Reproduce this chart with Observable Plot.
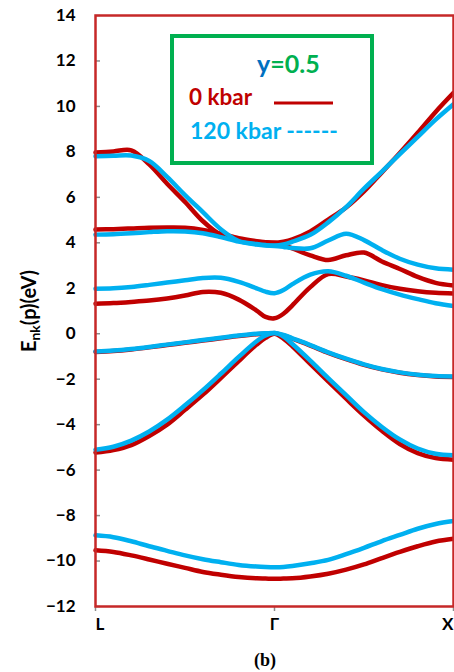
<!DOCTYPE html>
<html><head><meta charset="utf-8">
<script src="https://cdn.jsdelivr.net/npm/d3@7"></script>
<script src="https://cdn.jsdelivr.net/npm/@observablehq/plot@0.6"></script>
<style>
body{margin:0;background:#fff;}
#wrap{position:relative;width:454px;height:672px;}
svg{overflow:visible;}
</style></head><body><div id="wrap"></div>
<script>
// k-path: L = 0, Γ = 1, X = 2
const kPoints = [0,0.1,0.2,0.3,0.4,0.5,0.6,0.7,0.8,0.9,0.95,1.0,1.05,1.1,1.2,1.3,1.4,1.5,1.6,1.7,1.8,1.9,2.0];
const xTickPos = [0, 1, 2];
const xTickLabels = ["L", "Γ", "X"];
const yTicks = [-12,-10,-8,-6,-4,-2,0,2,4,6,8,10,12,14];

// 0 kbar (red)
const red1 = [-9.53,-9.6,-9.75,-9.93,-10.12,-10.3,-10.48,-10.6,-10.7,-10.76,-10.77,-10.78,-10.77,-10.76,-10.68,-10.56,-10.38,-10.15,-9.87,-9.6,-9.35,-9.14,-9.02];
const red2 = [-5.23,-5.12,-4.9,-4.5,-4.0,-3.35,-2.68,-1.95,-1.2,-0.48,-0.18,0.0,-0.22,-0.55,-1.33,-2.1,-2.86,-3.6,-4.27,-4.85,-5.25,-5.47,-5.54];
const red3 = [-0.8,-0.76,-0.69,-0.6,-0.5,-0.4,-0.3,-0.2,-0.1,-0.02,0.0,0.01,-0.07,-0.22,-0.52,-0.84,-1.12,-1.37,-1.57,-1.72,-1.82,-1.88,-1.9];
const red4 = [1.32,1.35,1.4,1.46,1.55,1.68,1.84,1.8,1.5,1.02,0.74,0.68,0.88,1.25,2.05,2.62,2.52,2.35,2.14,1.98,1.87,1.8,1.77];
const red5 = [4.58,4.6,4.63,4.66,4.67,4.66,4.57,4.4,4.2,4.07,4.02,4.0,3.9,3.75,3.45,3.24,3.45,3.57,3.18,2.85,2.5,2.24,2.12];
const red6 = [7.97,8.02,8.07,7.45,6.6,5.8,4.95,4.35,4.14,4.05,4.02,4.0,4.05,4.15,4.5,5.02,5.55,6.26,7.1,7.95,8.84,9.76,10.6];

// 120 kbar (blue)
const blue1 = [-8.87,-8.95,-9.13,-9.35,-9.55,-9.75,-9.92,-10.05,-10.17,-10.24,-10.26,-10.27,-10.26,-10.22,-10.1,-9.95,-9.7,-9.42,-9.12,-8.85,-8.58,-8.37,-8.24];
const blue2 = [-5.1,-4.97,-4.7,-4.3,-3.78,-3.15,-2.48,-1.76,-1.02,-0.33,-0.08,0.03,-0.12,-0.45,-1.18,-1.95,-2.7,-3.45,-4.1,-4.65,-5.05,-5.28,-5.35];
const blue3 = [-0.78,-0.74,-0.67,-0.58,-0.48,-0.38,-0.28,-0.18,-0.08,0.0,0.02,0.03,-0.05,-0.2,-0.5,-0.82,-1.1,-1.35,-1.55,-1.7,-1.8,-1.86,-1.88];
const blue4 = [1.98,2.0,2.06,2.15,2.25,2.35,2.45,2.46,2.28,2.0,1.85,1.78,1.92,2.18,2.6,2.75,2.55,2.25,1.96,1.72,1.52,1.34,1.22];
const blue5 = [4.36,4.38,4.42,4.47,4.51,4.5,4.42,4.25,4.05,3.92,3.88,3.86,3.82,3.77,3.76,4.1,4.4,4.12,3.68,3.3,3.04,2.88,2.82];
const blue6 = [7.81,7.83,7.84,7.6,6.9,6.1,5.35,4.6,4.08,3.95,3.9,3.88,3.93,4.05,4.35,4.9,5.57,6.38,7.13,7.9,8.66,9.42,10.1];

const redBands = [red1, red2, red3, red4, red5, red6];
const blueBands = [blue1, blue2, blue3, blue4, blue5, blue6];

function toRows(bands, tag) {
  const rows = [];
  bands.forEach((arr, b) => arr.forEach((e, i) => rows.push({k: kPoints[i], e, band: tag + b})));
  return rows;
}
const redRows = toRows(redBands, "r");
const blueRows = toRows(blueBands, "b");

const RED = "#c00000", BLUE = "#00b0f0", GREEN = "#00b050";
const anchors = ["start", "middle", "end"];

const chart = Plot.plot({
  width: 454,
  height: 672,
  marginLeft: 95,
  marginRight: 1,
  marginTop: 15,
  marginBottom: 66,
  style: {fontFamily: "Lato, sans-serif", background: "white"},
  x: {domain: [0, 2]},
  y: {domain: [-12, 14]},
  marks: [
    Plot.axisY(yTicks, {tickSize: 0, tickPadding: 20, fontSize: 17, fontWeight: "bold", fill: "black", label: null}),
    Plot.tickY(yTicks, {y: d => d, insetRight: 353, stroke: "#8c8c8c", strokeWidth: 1.5}),
    Plot.axisX(xTickPos, {tickSize: 5, tickFormat: () => "", stroke: "#8c8c8c", strokeWidth: 1.5, label: null}),
    ...xTickLabels.map((t, i) => Plot.text([t], {x: () => xTickPos[i], text: d => d, frameAnchor: "bottom", dy: 23, textAnchor: anchors[i], fontSize: 17, fontWeight: "bold", fill: "black"})),
    Plot.line(redRows, {x: "k", y: "e", z: "band", stroke: RED, strokeWidth: 4.5, curve: "catmull-rom"}),
    Plot.line(blueRows, {x: "k", y: "e", z: "band", stroke: BLUE, strokeWidth: 4.5, curve: "catmull-rom"}),
    Plot.frame({stroke: "#c62828", strokeWidth: 2.5})
  ]
});

document.getElementById("wrap").appendChild(chart);
const svg = d3.select(chart);

// Y-axis title with subscript
const yl = svg.append("text")
  .attr("transform", "translate(36,311) rotate(-90)")
  .attr("text-anchor", "middle")
  .attr("font-family", "Lato, sans-serif")
  .attr("font-weight", "bold")
  .attr("font-size", 20)
  .attr("fill", "black");
yl.append("tspan").text("E");
yl.append("tspan").attr("font-size", 14).attr("dy", 4).text("nk");
yl.append("tspan").attr("dy", -4).text("(p)(eV)");

// caption
svg.append("text")
  .attr("x", 265).attr("y", 666)
  .attr("text-anchor", "middle")
  .attr("font-family", "'Liberation Serif', serif")
  .attr("font-weight", "bold")
  .attr("font-size", 18)
  .attr("fill", "black")
  .text("(b)");

// legend
const lg = svg.append("g").attr("font-family", "Lato, sans-serif").attr("font-weight", "bold").attr("text-anchor", "start");
lg.append("rect").attr("x", 172).attr("y", 36).attr("width", 200).attr("height", 127)
  .attr("fill", "white").attr("stroke", GREEN).attr("stroke-width", 4);
const t1 = lg.append("text").attr("x", 257).attr("y", 73).attr("font-size", 25);
t1.append("tspan").attr("fill", "#0070c0").text("y");
t1.append("tspan").attr("fill", GREEN).text("=0.5");
lg.append("text").attr("x", 189).attr("y", 105).attr("font-size", 22.5).attr("fill", RED).text("0 kbar");
lg.append("line").attr("x1", 274).attr("x2", 333).attr("y1", 103).attr("y2", 103).attr("stroke", RED).attr("stroke-width", 3);
lg.append("text").attr("x", 190).attr("y", 139).attr("font-size", 23).attr("fill", BLUE).text("120 kbar ------");
</script></body></html>
